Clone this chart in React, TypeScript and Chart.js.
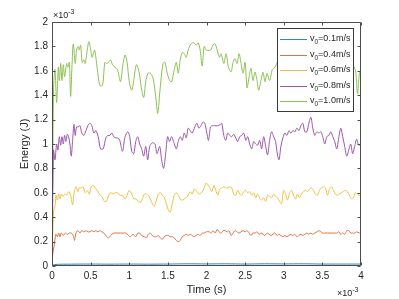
import React, { useEffect, useRef } from "react";
import { Chart, registerables } from "chart.js";

Chart.register(...registerables);

// Time in units of 1e-3 s, energy in units of 1e-3 J
const LABELS = ["0.1", "0.4", "0.6", "0.8", "1.0"];
const COLORS = ["#2f86c8", "#e07048", "#f0c040", "#9a55aa", "#8cc152"];

const T_V01 = [0, 0.03, 0.25, 0.5, 0.75, 1.0, 1.25, 1.5, 1.75, 2.0, 2.25, 2.5, 2.75, 3.0, 3.25, 3.5, 3.75, 4.0];
const E_V01 = [0, 0.012, 0.015, 0.016, 0.015, 0.016, 0.015, 0.016, 0.018, 0.017, 0.018, 0.016, 0.018, 0.017, 0.018, 0.016, 0.016, 0.016];

const T_V04 = [0, 0.01, 0.026, 0.039, 0.052, 0.069, 0.086, 0.103, 0.12, 0.146, 0.172, 0.198, 0.224, 0.249, 0.275, 0.292, 0.31, 0.335, 0.361, 0.387, 0.413, 0.439, 0.465, 0.49, 0.516, 0.542, 0.568, 0.594, 0.619, 0.645, 0.671, 0.697, 0.723, 0.748, 0.774, 0.8, 0.826, 0.852, 0.886, 0.92, 0.955, 0.989, 1.015, 1.049, 1.084, 1.11, 1.135, 1.161, 1.196, 1.222, 1.247, 1.273, 1.299, 1.325, 1.351, 1.376, 1.402, 1.428, 1.454, 1.48, 1.505, 1.531, 1.557, 1.583, 1.609, 1.634, 1.66, 1.686, 1.712, 1.738, 1.763, 1.789, 1.815, 1.841, 1.867, 1.892, 1.918, 1.944, 1.97, 1.996, 2.034, 2.06, 2.086, 2.112, 2.138, 2.163, 2.189, 2.215, 2.241, 2.267, 2.292, 2.318, 2.344, 2.37, 2.396, 2.422, 2.447, 2.473, 2.499, 2.525, 2.551, 2.576, 2.602, 2.628, 2.654, 2.68, 2.705, 2.731, 2.757, 2.783, 2.809, 2.834, 2.86, 2.886, 2.912, 2.938, 2.963, 2.989, 3.015, 3.041, 3.067, 3.092, 3.118, 3.144, 3.17, 3.196, 3.222, 3.247, 3.273, 3.299, 3.325, 3.351, 3.376, 3.402, 3.428, 3.454, 3.48, 3.505, 3.531, 3.566, 3.6, 3.634, 3.66, 3.686, 3.712, 3.738, 3.763, 3.789, 3.815, 3.841, 3.867, 3.892, 3.918, 3.944, 3.979, 4.0];
const E_V04 = [0, 0.1, 0.16, 0.22, 0.26, 0.24, 0.27, 0.24, 0.27, 0.25, 0.27, 0.26, 0.27, 0.27, 0.25, 0.21, 0.27, 0.29, 0.27, 0.29, 0.28, 0.29, 0.28, 0.28, 0.29, 0.28, 0.29, 0.28, 0.29, 0.28, 0.27, 0.25, 0.23, 0.24, 0.26, 0.27, 0.27, 0.27, 0.27, 0.27, 0.27, 0.25, 0.24, 0.26, 0.24, 0.27, 0.27, 0.25, 0.24, 0.23, 0.26, 0.27, 0.25, 0.24, 0.24, 0.25, 0.23, 0.22, 0.24, 0.25, 0.25, 0.24, 0.24, 0.23, 0.21, 0.2, 0.21, 0.24, 0.25, 0.26, 0.25, 0.26, 0.25, 0.24, 0.25, 0.26, 0.25, 0.27, 0.27, 0.28, 0.28, 0.27, 0.29, 0.27, 0.3, 0.28, 0.27, 0.29, 0.29, 0.28, 0.29, 0.25, 0.27, 0.29, 0.28, 0.27, 0.28, 0.29, 0.28, 0.29, 0.27, 0.25, 0.27, 0.27, 0.28, 0.26, 0.27, 0.26, 0.25, 0.27, 0.26, 0.25, 0.26, 0.27, 0.25, 0.26, 0.25, 0.24, 0.25, 0.24, 0.25, 0.26, 0.25, 0.26, 0.24, 0.25, 0.26, 0.25, 0.26, 0.27, 0.26, 0.27, 0.26, 0.27, 0.28, 0.29, 0.28, 0.27, 0.27, 0.27, 0.27, 0.27, 0.27, 0.27, 0.28, 0.26, 0.27, 0.26, 0.29, 0.29, 0.27, 0.27, 0.27, 0.28, 0.27, 0.27];

const T_V06 = [0, 0.02, 0.039, 0.052, 0.069, 0.086, 0.103, 0.12, 0.138, 0.163, 0.189, 0.215, 0.241, 0.267, 0.284, 0.31, 0.335, 0.353, 0.378, 0.404, 0.43, 0.456, 0.482, 0.508, 0.533, 0.559, 0.585, 0.611, 0.645, 0.68, 0.705, 0.74, 0.766, 0.791, 0.817, 0.852, 0.877, 0.912, 0.946, 0.972, 0.998, 1.032, 1.058, 1.092, 1.118, 1.144, 1.17, 1.196, 1.222, 1.247, 1.273, 1.299, 1.325, 1.351, 1.376, 1.402, 1.428, 1.454, 1.48, 1.505, 1.531, 1.557, 1.583, 1.609, 1.634, 1.66, 1.686, 1.712, 1.738, 1.763, 1.789, 1.815, 1.841, 1.867, 1.901, 1.935, 1.97, 1.996, 2.043, 2.069, 2.095, 2.12, 2.146, 2.172, 2.198, 2.224, 2.249, 2.275, 2.301, 2.327, 2.353, 2.378, 2.404, 2.43, 2.456, 2.482, 2.508, 2.533, 2.559, 2.585, 2.611, 2.637, 2.662, 2.688, 2.714, 2.74, 2.766, 2.791, 2.817, 2.843, 2.869, 2.895, 2.92, 2.946, 2.972, 2.998, 3.024, 3.049, 3.075, 3.101, 3.127, 3.153, 3.178, 3.204, 3.23, 3.256, 3.282, 3.308, 3.333, 3.359, 3.385, 3.411, 3.437, 3.462, 3.488, 3.514, 3.54, 3.566, 3.591, 3.617, 3.643, 3.669, 3.695, 3.72, 3.746, 3.772, 3.798, 3.824, 3.849, 3.875, 3.901, 3.927, 3.953, 3.978, 4.0];
const E_V06 = [0, 0.45, 0.49, 0.58, 0.54, 0.59, 0.55, 0.59, 0.57, 0.59, 0.58, 0.61, 0.58, 0.5, 0.59, 0.65, 0.61, 0.64, 0.64, 0.65, 0.6, 0.62, 0.59, 0.65, 0.66, 0.64, 0.62, 0.59, 0.57, 0.53, 0.53, 0.59, 0.6, 0.59, 0.6, 0.6, 0.58, 0.58, 0.55, 0.58, 0.62, 0.59, 0.55, 0.55, 0.53, 0.52, 0.55, 0.59, 0.59, 0.58, 0.55, 0.51, 0.49, 0.54, 0.59, 0.6, 0.58, 0.56, 0.51, 0.46, 0.44, 0.51, 0.58, 0.6, 0.58, 0.55, 0.54, 0.55, 0.56, 0.58, 0.61, 0.59, 0.63, 0.62, 0.59, 0.6, 0.64, 0.68, 0.64, 0.61, 0.66, 0.62, 0.58, 0.63, 0.64, 0.65, 0.64, 0.64, 0.65, 0.64, 0.59, 0.58, 0.62, 0.59, 0.58, 0.61, 0.62, 0.6, 0.61, 0.58, 0.6, 0.56, 0.59, 0.56, 0.54, 0.56, 0.53, 0.58, 0.57, 0.56, 0.59, 0.57, 0.56, 0.53, 0.51, 0.62, 0.59, 0.54, 0.6, 0.62, 0.58, 0.55, 0.59, 0.56, 0.59, 0.61, 0.62, 0.61, 0.63, 0.64, 0.62, 0.59, 0.58, 0.62, 0.64, 0.65, 0.64, 0.58, 0.63, 0.65, 0.62, 0.59, 0.58, 0.59, 0.6, 0.61, 0.62, 0.61, 0.58, 0.55, 0.56, 0.6, 0.59, 0.58, 0.59];

const T_V08 = [0, 0.02, 0.039, 0.06, 0.077, 0.095, 0.112, 0.129, 0.146, 0.163, 0.181, 0.198, 0.215, 0.232, 0.249, 0.267, 0.284, 0.301, 0.318, 0.34, 0.361, 0.387, 0.413, 0.439, 0.465, 0.49, 0.516, 0.542, 0.568, 0.598, 0.628, 0.662, 0.697, 0.723, 0.748, 0.774, 0.8, 0.826, 0.852, 0.877, 0.912, 0.946, 0.981, 1.006, 1.032, 1.058, 1.084, 1.11, 1.135, 1.161, 1.187, 1.213, 1.239, 1.265, 1.299, 1.333, 1.359, 1.394, 1.419, 1.445, 1.471, 1.497, 1.523, 1.548, 1.574, 1.609, 1.634, 1.66, 1.686, 1.712, 1.738, 1.763, 1.789, 1.815, 1.849, 1.875, 1.901, 1.927, 1.953, 1.978, 2.004, 2.026, 2.052, 2.077, 2.103, 2.146, 2.181, 2.198, 2.224, 2.249, 2.275, 2.301, 2.327, 2.353, 2.378, 2.404, 2.43, 2.456, 2.482, 2.508, 2.533, 2.559, 2.585, 2.611, 2.637, 2.662, 2.688, 2.714, 2.74, 2.766, 2.791, 2.817, 2.843, 2.869, 2.895, 2.912, 2.938, 2.963, 2.989, 3.015, 3.041, 3.067, 3.092, 3.118, 3.144, 3.17, 3.196, 3.222, 3.247, 3.273, 3.299, 3.325, 3.351, 3.376, 3.402, 3.428, 3.454, 3.48, 3.505, 3.531, 3.557, 3.583, 3.609, 3.634, 3.66, 3.686, 3.712, 3.738, 3.763, 3.789, 3.815, 3.841, 3.867, 3.892, 3.918, 3.944, 3.97, 3.996];
const E_V08 = [0, 0.95, 0.87, 1.0, 0.95, 1.06, 0.99, 1.06, 1.0, 1.07, 1.02, 1.08, 1.06, 1.0, 0.9, 1.03, 1.16, 1.07, 1.14, 1.14, 1.15, 1.09, 1.07, 1.11, 1.15, 1.17, 1.15, 1.09, 1.11, 1.06, 0.96, 0.96, 1.05, 1.07, 1.07, 1.09, 1.06, 1.05, 1.05, 1.03, 0.94, 1.06, 1.1, 1.06, 0.94, 0.92, 1.02, 1.06, 1.0, 0.96, 0.9, 0.98, 0.87, 0.98, 1.01, 1.0, 0.92, 0.98, 0.87, 0.8, 0.92, 1.06, 1.02, 1.06, 1.02, 0.96, 1.02, 1.06, 1.03, 1.09, 1.05, 1.13, 1.11, 1.09, 1.14, 1.17, 1.13, 1.15, 1.18, 1.17, 1.09, 1.03, 1.14, 1.15, 1.15, 1.15, 1.16, 1.17, 1.07, 1.03, 1.09, 1.07, 1.06, 1.08, 1.05, 1.02, 1.06, 1.07, 1.09, 1.03, 1.06, 1.0, 0.96, 1.02, 1.0, 0.99, 1.03, 0.96, 1.06, 0.98, 0.91, 1.03, 1.1, 1.06, 1.02, 0.94, 0.87, 0.98, 1.05, 1.09, 1.07, 1.11, 1.09, 1.11, 1.1, 1.13, 1.11, 1.15, 1.17, 1.1, 1.1, 1.17, 1.22, 1.13, 1.07, 1.1, 1.09, 1.1, 1.06, 1.0, 1.06, 1.07, 1.1, 1.06, 1.02, 0.96, 1.05, 1.13, 1.06, 0.98, 0.9, 0.95, 1.0, 0.92, 0.98, 1.04, 0.99, 1.0];

const T_V10 = [0, 0.02, 0.039, 0.06, 0.082, 0.095, 0.112, 0.129, 0.146, 0.163, 0.189, 0.206, 0.224, 0.241, 0.258, 0.275, 0.301, 0.318, 0.34, 0.353, 0.37, 0.391, 0.413, 0.43, 0.456, 0.477, 0.499, 0.52, 0.551, 0.585, 0.619, 0.654, 0.684, 0.705, 0.731, 0.757, 0.783, 0.813, 0.847, 0.886, 0.92, 0.946, 0.972, 0.998, 1.032, 1.058, 1.092, 1.127, 1.157, 1.187, 1.213, 1.243, 1.273, 1.308, 1.342, 1.368, 1.402, 1.437, 1.462, 1.488, 1.523, 1.548, 1.583, 1.609, 1.634, 1.66, 1.686, 1.712, 1.738, 1.763, 1.798, 1.832, 1.867, 1.892, 1.918, 1.944, 1.97, 1.996, 2.052, 2.082, 2.112, 2.138, 2.168, 2.189, 2.224, 2.254, 2.284, 2.318, 2.344, 2.37, 2.396, 2.422, 2.447, 2.473, 2.499, 2.525, 2.551, 2.576, 2.602, 2.628, 2.654, 2.675, 2.705, 2.731, 2.757, 2.783, 2.817, 2.852, 2.886, 2.95, 3.05, 3.15, 3.25, 3.35, 3.45, 3.55, 3.65, 3.75, 3.85, 3.9, 3.93, 3.955, 3.98, 4.0];
const E_V10 = [0, 1.45, 1.61, 1.34, 1.63, 1.52, 1.66, 1.52, 1.65, 1.55, 1.66, 1.63, 1.67, 1.39, 1.63, 1.82, 1.66, 1.77, 1.8, 1.77, 1.81, 1.67, 1.69, 1.66, 1.77, 1.84, 1.78, 1.71, 1.77, 1.62, 1.48, 1.48, 1.67, 1.66, 1.67, 1.69, 1.65, 1.63, 1.61, 1.51, 1.66, 1.73, 1.67, 1.52, 1.44, 1.52, 1.65, 1.59, 1.46, 1.38, 1.51, 1.58, 1.58, 1.54, 1.39, 1.25, 1.47, 1.66, 1.67, 1.59, 1.52, 1.51, 1.61, 1.67, 1.58, 1.69, 1.75, 1.74, 1.71, 1.77, 1.82, 1.83, 1.81, 1.83, 1.77, 1.64, 1.8, 1.77, 1.77, 1.81, 1.82, 1.77, 1.71, 1.74, 1.66, 1.74, 1.63, 1.59, 1.67, 1.7, 1.66, 1.74, 1.66, 1.58, 1.67, 1.46, 1.55, 1.62, 1.52, 1.59, 1.52, 1.44, 1.52, 1.59, 1.51, 1.58, 1.52, 1.61, 1.63, 1.7, 1.62, 1.72, 1.66, 1.75, 1.68, 1.6, 1.7, 1.64, 1.66, 1.64, 1.6, 1.41, 1.58, 1.6];

const SERIES_T = [T_V01, T_V04, T_V06, T_V08, T_V10];
const SERIES_E = [E_V01, E_V04, E_V06, E_V08, E_V10];

const X_MIN = 0, X_MAX = 4, X_STEP = 0.5;
const Y_MIN = 0, Y_MAX = 2, Y_STEP = 0.2;

const FONT = '"Liberation Sans", Arial, Helvetica, sans-serif';
const TEXT = "#262626";
const AXIS = "#4d4d4d";

function fmt(v: number) {
  return String(Number(v.toFixed(2)));
}

const matlabPlugin = {
  id: "matlabDecor",
  afterDatasetsDraw(chart: any) {
    const { ctx, chartArea, scales } = chart;
    const { left, right, top, bottom } = chartArea;
    const xs = scales.x, ys = scales.y;
    ctx.save();
    ctx.strokeStyle = AXIS;
    ctx.lineWidth = 1;
    const L = Math.round(left) + 0.5, R = Math.round(right) - 0.5;
    const T = Math.round(top) + 0.5, B = Math.round(bottom) - 0.5;
    ctx.beginPath();
    ctx.rect(L, T, R - L, B - T);
    // inward ticks
    for (let v = X_MIN; v <= X_MAX + 1e-9; v += X_STEP) {
      const px = Math.round(xs.getPixelForValue(v)) + 0.5;
      ctx.moveTo(px, B); ctx.lineTo(px, B - 3);
      ctx.moveTo(px, T); ctx.lineTo(px, T + 3);
    }
    for (let v = Y_MIN; v <= Y_MAX + 1e-9; v += Y_STEP) {
      const py = Math.round(ys.getPixelForValue(v)) + 0.5;
      ctx.moveTo(L, py); ctx.lineTo(L + 3, py);
      ctx.moveTo(R, py); ctx.lineTo(R - 3, py);
    }
    ctx.stroke();

    // legend
    const bx = 277.5, by = 28.5, bw = 76, bh = 83;
    ctx.fillStyle = "#ffffff";
    ctx.fillRect(bx, by, bw, bh);
    ctx.strokeStyle = "#3a3a3a";
    ctx.strokeRect(bx, by, bw, bh);
    LABELS.forEach((lab, i) => {
      const ry = 39 + i * 15.5;
      ctx.strokeStyle = COLORS[i];
      ctx.lineWidth = 1;
      ctx.beginPath();
      ctx.moveTo(280, Math.round(ry) + 0.5);
      ctx.lineTo(307, Math.round(ry) + 0.5);
      ctx.stroke();
      ctx.fillStyle = TEXT;
      ctx.textAlign = "left";
      ctx.textBaseline = "alphabetic";
      ctx.font = `9px ${FONT}`;
      let x = 310;
      ctx.fillText("v", x, ry + 2);
      x += ctx.measureText("v").width;
      ctx.font = `6.5px ${FONT}`;
      ctx.fillText("0", x, ry + 5);
      x += ctx.measureText("0").width;
      ctx.font = `9px ${FONT}`;
      ctx.fillText(`=${lab}m/s`, x, ry + 2);
    });

    // exponent labels
    const drawExp = (x: number, base: number) => {
      ctx.fillStyle = TEXT;
      ctx.textAlign = "left";
      ctx.textBaseline = "alphabetic";
      ctx.font = `9px ${FONT}`;
      ctx.fillText("\u00d710", x, base);
      const w = ctx.measureText("\u00d710").width;
      ctx.font = `7px ${FONT}`;
      ctx.fillText("-3", x + w, base - 4);
    };
    drawExp(53, 18);
    drawExp(337, 296);

    // axis titles
    ctx.fillStyle = TEXT;
    ctx.font = `11px ${FONT}`;
    ctx.textAlign = "center";
    ctx.textBaseline = "middle";
    ctx.fillText("Time (s)", (left + right) / 2, 290);
    ctx.save();
    ctx.translate(25, (top + bottom) / 2);
    ctx.rotate(-Math.PI / 2);
    ctx.fillText("Energy (J)", 0, 0);
    ctx.restore();
    ctx.restore();
  },
};

export default function App() {
  const ref = useRef<HTMLCanvasElement | null>(null);
  useEffect(() => {
    if (!ref.current) return;
    const datasets = SERIES_T.map((ts, i) => ({
      label: LABELS[i],
      data: ts.map((t, j) => ({ x: t, y: SERIES_E[i][j] })),
      borderColor: COLORS[i],
      borderWidth: 1,
      pointRadius: 0,
      tension: 0.3,
      fill: false,
    }));
    const chart = new Chart(ref.current, {
      type: "line",
      data: { datasets },
      options: {
        animation: false,
        responsive: false,
        maintainAspectRatio: false,
        events: [],
        layout: { padding: { left: 0, top: 22, right: 38, bottom: 0 } },
        scales: {
          x: {
            type: "linear",
            min: X_MIN,
            max: X_MAX,
            afterFit: (s: any) => { s.height = 33; },
            ticks: {
              stepSize: X_STEP,
              padding: 4,
              color: TEXT,
              font: { family: FONT, size: 10 },
              maxRotation: 0,
              callback: (v: any) => fmt(Number(v)),
            },
            grid: { display: false, drawTicks: false },
            border: { display: false },
          },
          y: {
            type: "linear",
            min: Y_MIN,
            max: Y_MAX,
            afterFit: (s: any) => { s.width = 52; },
            ticks: {
              stepSize: Y_STEP,
              padding: 4,
              color: TEXT,
              font: { family: FONT, size: 10 },
              callback: (v: any) => fmt(Number(v)),
            },
            grid: { display: false, drawTicks: false },
            border: { display: false },
          },
        },
        plugins: { legend: { display: false }, tooltip: { enabled: false } },
      },
      plugins: [matlabPlugin],
    } as any);
    return () => chart.destroy();
  }, []);
  return (
    <div style={{ position: "fixed", left: 0, top: 0, width: 399, height: 299, background: "#fff" }}>
      <canvas ref={ref} width={399} height={299} style={{ width: 399, height: 299 }} />
    </div>
  );
}
